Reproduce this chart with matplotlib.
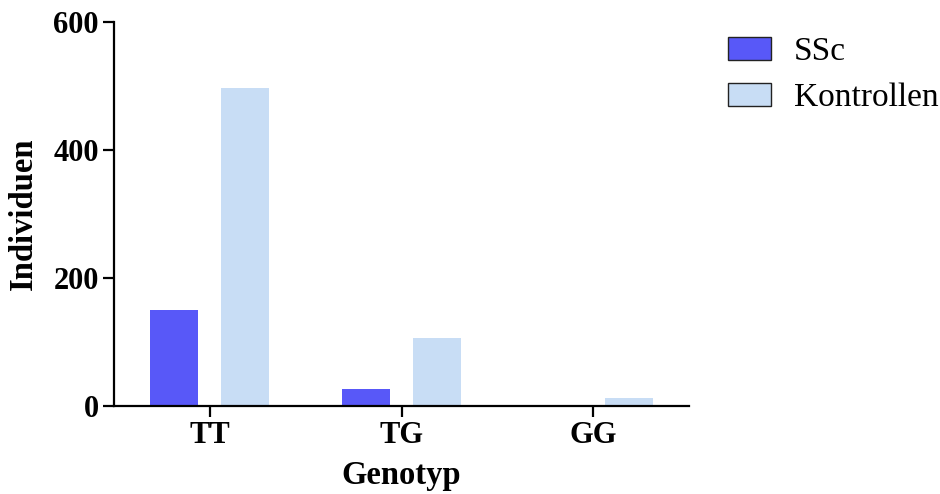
import matplotlib
matplotlib.use('Agg')
import matplotlib.pyplot as plt
from matplotlib.patches import Patch
import numpy as np

# Data
genotypes = ['TT', 'TG', 'GG']
ssc = [150, 26, 0]
kontrollen = [497, 106, 12]
y_ticks = [0, 200, 400, 600]

plt.rcParams['font.family'] = ['Liberation Serif', 'DejaVu Serif']

ssc_color = '#5858F8'
kon_color = '#C8DDF5'

fig = plt.figure(figsize=(9.4, 4.94), dpi=100)
ax = fig.add_axes([0.1213, 0.178, 0.6117, 0.777])

x = np.arange(len(genotypes))
width = 0.25
offset = 0.185
ax.bar(x - offset, ssc, width, color=ssc_color, linewidth=0)
ax.bar(x + offset, kontrollen, width, color=kon_color, linewidth=0)

ax.set_xlim(-0.5, 2.5)
ax.set_ylim(0, 600)
ax.set_xticks(x)
ax.set_xticklabels(genotypes, fontsize=22, fontweight='bold')
ax.set_yticks(y_ticks)
ax.set_yticklabels([str(v) for v in y_ticks], fontsize=22, fontweight='bold')

ax.spines['top'].set_visible(False)
ax.spines['right'].set_visible(False)
ax.spines['left'].set_linewidth(1.6)
ax.spines['bottom'].set_linewidth(1.6)
ax.tick_params(axis='both', direction='out', length=8, width=1.6, pad=3)

ax.set_xlabel('Genotyp', fontsize=23.5, fontweight='bold', labelpad=7)
ax.set_ylabel('Individuen', fontsize=23.5, fontweight='bold', labelpad=10)

# legend
handles = [Patch(facecolor=ssc_color, edgecolor='#222222', linewidth=1.0),
           Patch(facecolor=kon_color, edgecolor='#222222', linewidth=1.0)]
fig.legend(handles, ['SSc', 'Kontrollen'], loc='upper left', bbox_to_anchor=(0.743, 0.986),
           frameon=False, fontsize=24, handlelength=1.27, handleheight=0.67,
           handletextpad=0.7, labelspacing=0.45)

fig.savefig('out.png', dpi=100)
